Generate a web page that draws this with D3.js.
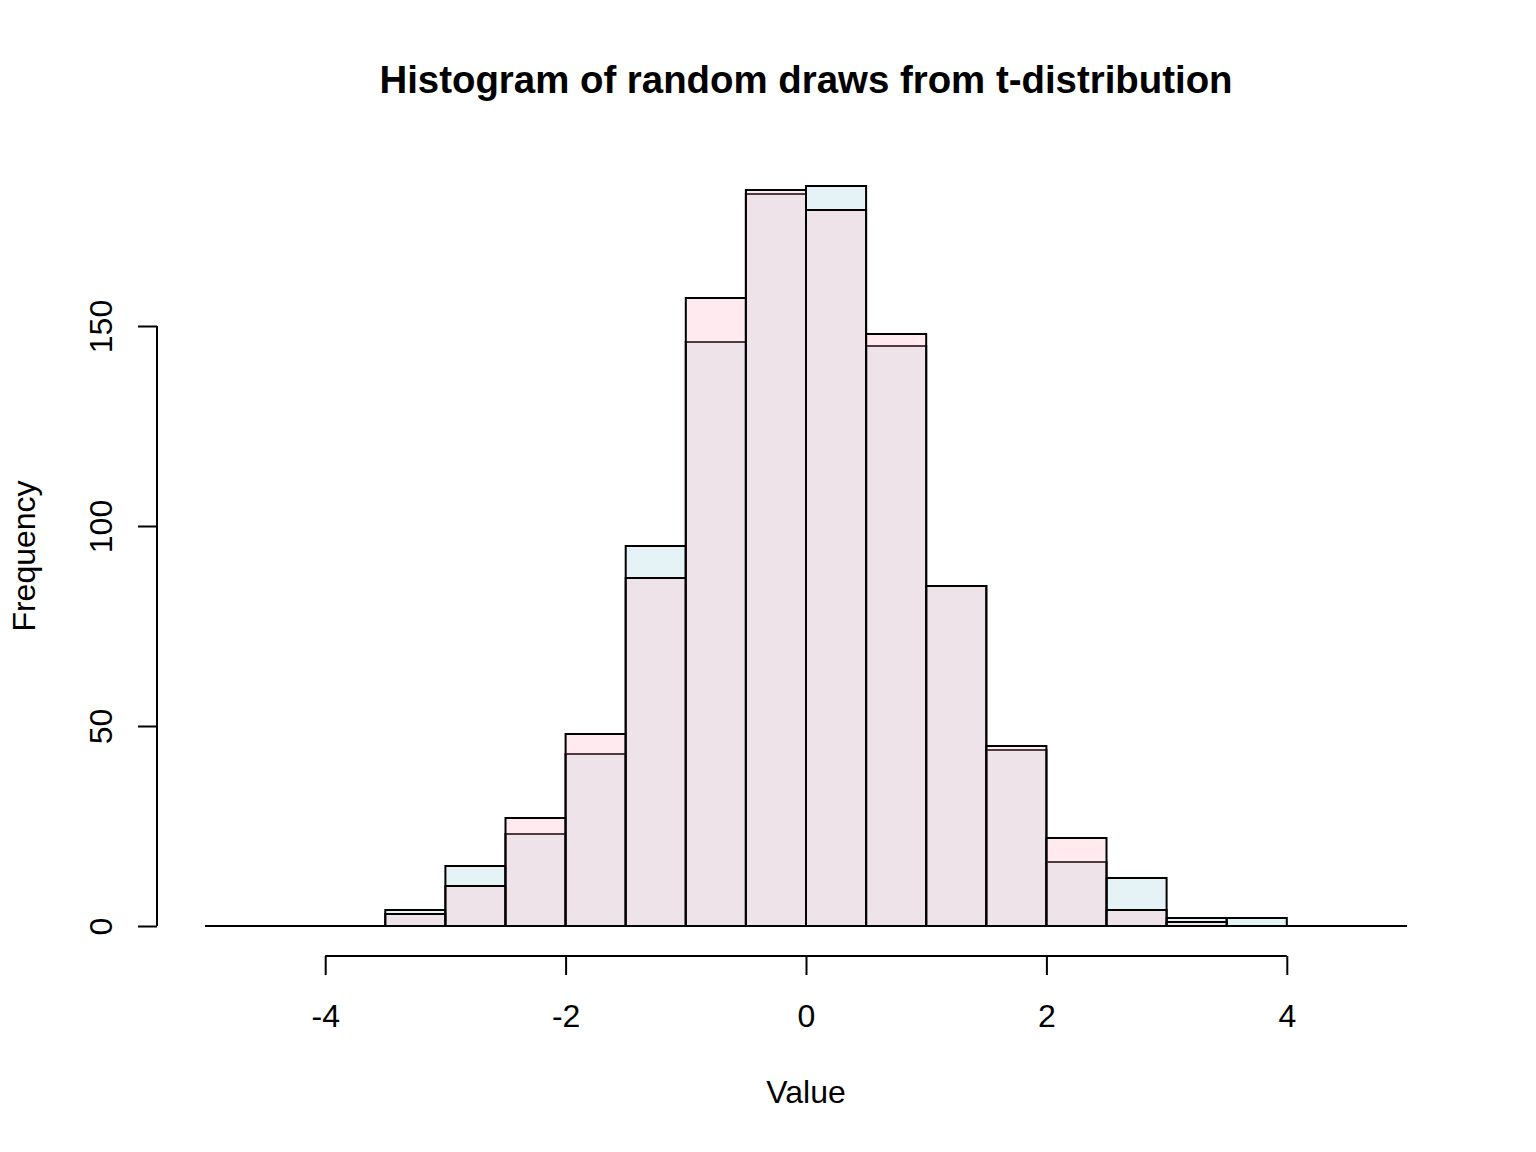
<!DOCTYPE html>
<html><head><meta charset="utf-8">
<script src="https://cdn.jsdelivr.net/npm/d3@7"></script>
<style>body{margin:0;background:#fff}svg{display:block}text{font-family:"Liberation Sans",Arial,sans-serif}</style>
</head><body>
<script>
const breaks = [-3.5,-3,-2.5,-2,-1.5,-1,-0.5,0,0.5,1,1.5,2,2.5,3,3.5,4];
const countsA = [4,15,23,43,95,146,183,185,145,85,44,16,12,2,2];
const countsB = [3,10,27,48,87,157,184,179,148,85,45,22,4,1,0];
const xTicks = [-4,-2,0,2,4];
const yTicks = [0,50,100,150];
const xDomain = [-5,5];
const title = "Histogram of random draws from t-distribution";
const xLabel = "Value", yLabel = "Frequency";

const W = 1536, H = 1152;
const FONT = "Liberation Sans, Arial, sans-serif";
const svg = d3.select("body").append("svg").attr("width", W).attr("height", H);
const x = d3.scaleLinear().domain(xDomain).range([205, 1407]);
const y = d3.scaleLinear().domain([0,150]).range([926, 326]);

function bins(counts){ return counts.map((c,i)=>({x0:breaks[i], x1:breaks[i+1], c})); }

// baseline
svg.append("line").attr("x1", x(xDomain[0])).attr("x2", x(xDomain[1]))
  .attr("y1", y(0)).attr("y2", y(0)).attr("stroke","#000").attr("stroke-width",2);

[[countsA,"rgba(173,216,230,0.314)"],[countsB,"rgba(255,192,203,0.314)"]].forEach(([cs,fill])=>{
  svg.append("g").selectAll("rect").data(bins(cs)).join("rect")
    .attr("x", d=>x(d.x0)).attr("width", d=>x(d.x1)-x(d.x0))
    .attr("y", d=>y(d.c)).attr("height", d=>y(0)-y(d.c))
    .attr("fill", fill).attr("stroke","#000").attr("stroke-width",2);
});

// x axis
const gx = svg.append("g").attr("transform","translate(0,956)")
  .call(d3.axisBottom(x).tickValues(xTicks).tickSize(19).tickFormat(d3.format("d")));
gx.select(".domain").attr("d", `M${x(xTicks[0])},0H${x(xTicks[xTicks.length-1])}`).attr("stroke","#000").attr("stroke-width",2);
gx.selectAll(".tick line").attr("stroke","#000").attr("stroke-width",2);
gx.selectAll(".tick text").attr("font-size",32).attr("fill","#000").attr("font-family",FONT)
  .attr("y",71).attr("dy",null).text(d=>String(d));

// y axis
const gy = svg.append("g").attr("transform","translate(157,0)")
  .call(d3.axisLeft(y).tickValues(yTicks).tickSize(19).tickFormat(d3.format("d")));
gy.select(".domain").attr("d", `M0,${y(yTicks[0])}V${y(yTicks[yTicks.length-1])}`).attr("stroke","#000").attr("stroke-width",2);
gy.selectAll(".tick line").attr("stroke","#000").attr("stroke-width",2);
gy.selectAll(".tick text").attr("font-size",32).attr("fill","#000").attr("font-family",FONT)
  .attr("x",null).attr("dy",null).attr("text-anchor","middle")
  .attr("transform","translate(-45,0) rotate(-90)");

svg.append("text").attr("x", 806).attr("y", 93).attr("text-anchor","middle")
  .attr("font-size",38.4).attr("font-weight","bold").text(title);
svg.append("text").attr("x", 806).attr("y", 1103).attr("text-anchor","middle")
  .attr("font-size",32).text(xLabel);
svg.append("text").attr("transform","translate(35,556) rotate(-90)").attr("text-anchor","middle")
  .attr("font-size",32).text(yLabel);
</script>
</body></html>
